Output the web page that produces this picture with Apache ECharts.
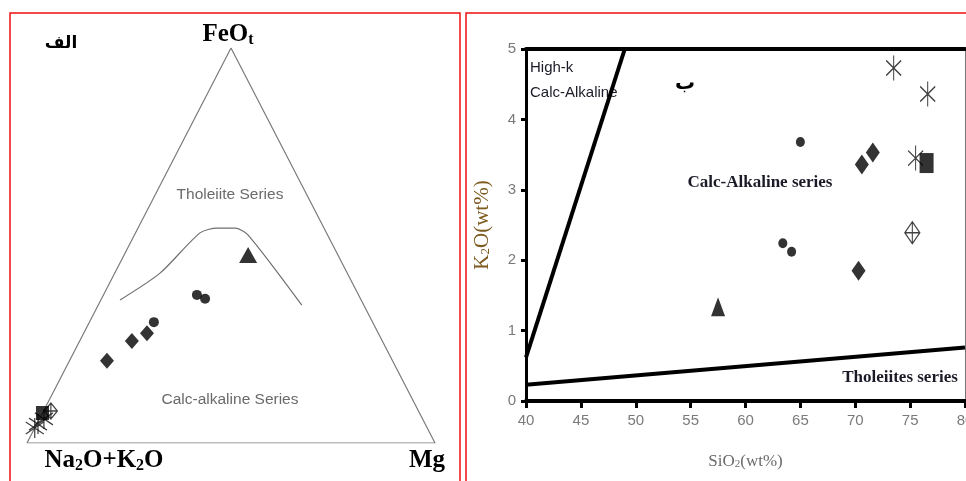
<!DOCTYPE html>
<html><head><meta charset="utf-8">
<script src="https://cdn.jsdelivr.net/npm/echarts@6/dist/echarts.min.js"></script>
<style>html,body{margin:0;padding:0;background:#fff}#c{width:966px;height:481px}</style>
</head><body><div id="c"></div>
<script>
// ---------- AFM ternary (compositions: [Na2O+K2O, FeOt, MgO]) ----------
const afmOutline = [[100,0,0],[0,100,0],[0,0,100],[100,0,0]];
const afmBoundary = [[59.1,36.2,4.7],[45.9,43.0,11.1],[31.0,53.2,15.8],[26.2,54.4,19.4],[21.8,54.4,23.8],[19.5,52.7,27.8],[15.2,34.9,49.9]];
const afmTriangle = [[22.0,47.6,30.4]];
const afmCircles = [[39.6,37.5,22.9],[38.1,36.5,25.4],[53.6,30.6,15.8]];
const afmDiamonds = [[56.7,27.8,15.5],[61.4,25.8,12.8],[70.0,20.8,9.2]];
const afmSquare = [[92.4,7.6,0]];
const afmOpenDiamond = [[90.1,8.1,1.8]];
const afmAsterisks = [[96.2,3.8,0],[94.9,4.8,0.3],[92.8,6.1,1.1]];

// ---------- K2O vs SiO2 ----------
const siTicks = [40,45,50,55,60,65,70,75,80];
const kTicks = [0,1,2,3,4,5];
const highKLine = [[40,0.62],[49,5]];
const tholLine = [[40,0.23],[80,0.76]];
const kCircles = [[65.0,3.68],[63.4,2.24],[64.2,2.12]];
const kDiamonds = [[70.6,3.36],[71.6,3.53],[70.3,1.85]];
const kTriangle = [[57.5,1.34]];
const kAsterisks = [[73.5,4.73],[76.6,4.36],[75.5,3.45]];
const kSquare = [[76.5,3.38]];
const kOpenDiamond = [[75.2,2.39]];

// ternary projection: x = Mg + FeOt/2, y = FeOt
function tern(arr){ return arr.map(p => [p[2] + p[1]/2, p[1]]); }

const asteriskPath = 'path://M7,0L7,20M0,4L14,16M0,16L14,4';
const openDiamondPath = 'path://M7,0L14,10L7,20L0,10ZM7,0L7,20M0,10L14,10';
const black = '#000';
const solid = {color: black};
const stroke = {color: 'transparent', borderColor: '#111', borderWidth: 1.3};

const chart = echarts.init(document.getElementById('c'), null, {renderer: 'canvas'});
chart.setOption({
  animation: false,
  backgroundColor: '#fff',
  grid: [
    {left: 27, top: 48, width: 408, height: 395, outerBoundsMode: 'none', containLabel: false},
    {left: 526, top: 49, width: 439, height: 352, outerBoundsMode: 'none', containLabel: false}
  ],
  xAxis: [
    {gridIndex: 0, type: 'value', min: 0, max: 100, show: false},
    {gridIndex: 1, type: 'value', min: 40, max: 80, interval: 5, position: 'bottom',
      axisLine: {onZero: false, lineStyle: {color: '#000', width: 4}},
      axisTick: {show: true, inside: false, length: 7, lineStyle: {color: '#000', width: 3}},
      axisLabel: {color: '#7a7a7a', fontSize: 15, fontFamily: 'Liberation Sans Narrow, Liberation Sans, sans-serif', margin: 12,
        formatter: v => siTicks.includes(v) ? String(v) : ''},
      splitLine: {show: false},
      name: '{a|SiO}{s|2}{a|(wt%)}', nameLocation: 'middle', nameGap: 52,
      nameTextStyle: {rich: {
        a: {fontSize: 17, color: '#6a6a6a', fontFamily: 'Liberation Serif, serif'},
        s: {fontSize: 11, color: '#6a6a6a', fontFamily: 'Liberation Serif, serif', padding: [6,0,0,0]}
      }}},
    {gridIndex: 1, type: 'value', min: 40, max: 80, position: 'top',
      axisLine: {onZero: false, lineStyle: {color: '#000', width: 4}},
      axisTick: {show: false}, axisLabel: {show: false}, splitLine: {show: false}}
  ],
  yAxis: [
    {gridIndex: 0, type: 'value', min: 0, max: 100, show: false},
    {gridIndex: 1, type: 'value', min: 0, max: 5, interval: 1, position: 'left',
      axisLine: {show: true, onZero: false, lineStyle: {color: '#000', width: 3}},
      axisTick: {show: true, inside: false, length: 5, lineStyle: {color: '#000', width: 3}},
      axisLabel: {color: '#7a7a7a', fontSize: 15, fontFamily: 'Liberation Sans Narrow, Liberation Sans, sans-serif', margin: 10,
        formatter: v => kTicks.includes(v) ? String(v) : ''},
      splitLine: {show: false},
      name: '{a|K}{s|2}{a|O(wt%)}', nameLocation: 'middle', nameGap: 33, nameRotate: 90,
      nameTextStyle: {rich: {
        a: {fontSize: 21, color: '#7d5a1e', fontFamily: 'Liberation Serif, serif'},
        s: {fontSize: 13, color: '#7d5a1e', fontFamily: 'Liberation Serif, serif', padding: [7,0,0,0]}
      }}},
    {gridIndex: 1, type: 'value', min: 0, max: 5, position: 'right',
      axisLine: {show: true, onZero: false, lineStyle: {color: '#777', width: 1}},
      axisTick: {show: false}, axisLabel: {show: false}, splitLine: {show: false}}
  ],
  series: [
    // ternary
    {type: 'line', xAxisIndex: 0, yAxisIndex: 0, data: tern(afmOutline), symbol: 'none',
      lineStyle: {color: '#7a7a7a', width: 1.2}, z: 1},
    {type: 'line', xAxisIndex: 0, yAxisIndex: 0, data: tern(afmBoundary), symbol: 'none', smooth: 0.25,
      lineStyle: {color: '#6f6f6f', width: 1.2}, z: 1},
    {type: 'scatter', xAxisIndex: 0, yAxisIndex: 0, data: tern(afmTriangle), symbol: 'triangle', symbolSize: [18,16], itemStyle: solid, z: 3},
    {type: 'scatter', xAxisIndex: 0, yAxisIndex: 0, data: tern(afmCircles), symbol: 'circle', symbolSize: 10, itemStyle: solid, z: 3},
    {type: 'scatter', xAxisIndex: 0, yAxisIndex: 0, data: tern(afmDiamonds), symbol: 'diamond', symbolSize: [14,16], itemStyle: solid, z: 3},
    {type: 'scatter', xAxisIndex: 0, yAxisIndex: 0, data: tern(afmAsterisks), symbol: asteriskPath, symbolSize: [18,20], itemStyle: stroke, z: 3},
    {type: 'scatter', xAxisIndex: 0, yAxisIndex: 0, data: tern(afmOpenDiamond), symbol: openDiamondPath, symbolSize: [13,16], itemStyle: stroke, z: 3},
    {type: 'scatter', xAxisIndex: 0, yAxisIndex: 0, data: tern(afmSquare), symbol: 'rect', symbolSize: [13,14], itemStyle: solid, z: 4},
    // K2O vs SiO2
    {type: 'line', xAxisIndex: 1, yAxisIndex: 1, data: highKLine, symbol: 'none',
      lineStyle: {color: '#000', width: 4}, z: 2},
    {type: 'line', xAxisIndex: 1, yAxisIndex: 1, data: tholLine, symbol: 'none',
      lineStyle: {color: '#000', width: 4}, z: 2},
    {type: 'scatter', xAxisIndex: 1, yAxisIndex: 1, data: kCircles, symbol: 'circle', symbolSize: [9,10], itemStyle: solid, z: 3},
    {type: 'scatter', xAxisIndex: 1, yAxisIndex: 1, data: kDiamonds, symbol: 'diamond', symbolSize: [14,20], itemStyle: solid, z: 3},
    {type: 'scatter', xAxisIndex: 1, yAxisIndex: 1, data: kTriangle, symbol: 'triangle', symbolSize: [14,19], itemStyle: solid, z: 3},
    {type: 'scatter', xAxisIndex: 1, yAxisIndex: 1, data: kAsterisks, symbol: asteriskPath, symbolSize: [15,25], itemStyle: stroke, z: 3},
    {type: 'scatter', xAxisIndex: 1, yAxisIndex: 1, data: kSquare, symbol: 'rect', symbolSize: [14,20], itemStyle: solid, z: 4},
    {type: 'scatter', xAxisIndex: 1, yAxisIndex: 1, data: kOpenDiamond, symbol: openDiamondPath, symbolSize: [15,22], itemStyle: stroke, z: 3}
  ],
  graphic: [
    {type: 'rect', shape: {x: 10, y: 13, width: 450, height: 490}, style: {fill: 'none', stroke: '#ee1111', lineWidth: 1.5}, z: 100},
    {type: 'rect', shape: {x: 466, y: 13, width: 520, height: 490}, style: {fill: 'none', stroke: '#ee1111', lineWidth: 1.5}, z: 100},
    // ternary labels
    {type: 'text', x: 61, y: 44, style: {text: 'الف', font: 'bold 17px "DejaVu Sans"', fill: '#000', align: 'center', verticalAlign: 'middle'}},
    {type: 'text', x: 228, y: 35, style: {text: '{a|FeO}{b|t}', align: 'center', verticalAlign: 'middle',
      rich: {a: {font: 'bold 25px "Liberation Serif"', fill: '#000'}, b: {font: 'bold 16px "Liberation Serif"', fill: '#000', padding: [10,0,0,0]}}}},
    {type: 'text', x: 104, y: 461, style: {text: '{a|Na}{b|2}{a|O+K}{b|2}{a|O}', align: 'center', verticalAlign: 'middle',
      rich: {a: {font: 'bold 25px "Liberation Serif"', fill: '#000'}, b: {font: 'bold 16px "Liberation Serif"', fill: '#000', padding: [10,0,0,0]}}}},
    {type: 'text', x: 427, y: 461, style: {text: 'Mg', font: 'bold 25px "Liberation Serif"', fill: '#000', align: 'center', verticalAlign: 'middle'}},
    {type: 'text', x: 230, y: 195, style: {text: 'Tholeiite Series', font: '15.5px "Liberation Sans"', fill: '#6a6a6a', align: 'center', verticalAlign: 'middle'}},
    {type: 'text', x: 230, y: 400, style: {text: 'Calc-alkaline Series', font: '15.5px "Liberation Sans"', fill: '#6a6a6a', align: 'center', verticalAlign: 'middle'}},
    // right panel labels
    {type: 'text', x: 530, y: 68, style: {text: 'High-k', font: '15px "Liberation Sans Narrow", "Liberation Sans"', fill: '#1b1b28', align: 'left', verticalAlign: 'middle'}},
    {type: 'text', x: 530, y: 93, style: {text: 'Calc-Alkaline', font: '15px "Liberation Sans Narrow", "Liberation Sans"', fill: '#1b1b28', align: 'left', verticalAlign: 'middle'}},
    {type: 'text', x: 685, y: 84, style: {text: 'ب', font: 'bold 20px "DejaVu Sans"', fill: '#000', align: 'center', verticalAlign: 'middle'}},
    {type: 'text', x: 760, y: 183, style: {text: 'Calc-Alkaline series', font: 'bold 17px "Liberation Serif"', fill: '#1b1b28', align: 'center', verticalAlign: 'middle'}},
    {type: 'text', x: 900, y: 378, style: {text: 'Tholeiites series', font: 'bold 17px "Liberation Serif"', fill: '#1b1b28', align: 'center', verticalAlign: 'middle'}}
  ]
});
</script>
</body></html>
